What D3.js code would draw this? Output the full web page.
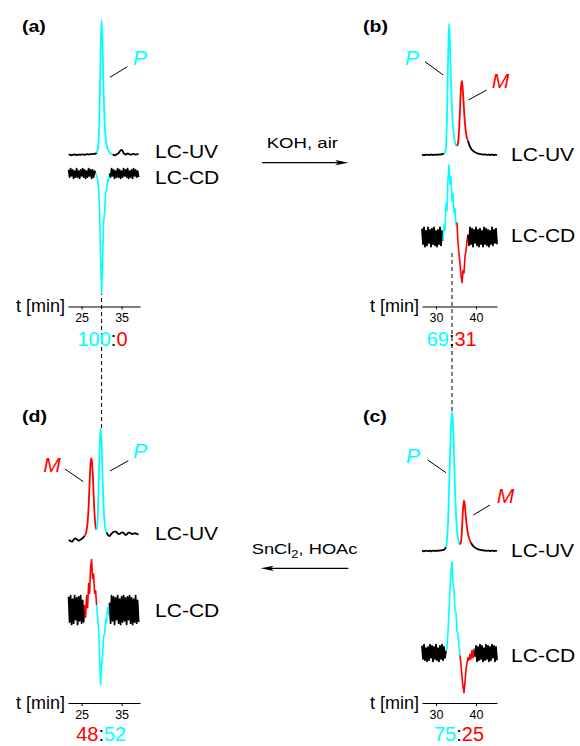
<!DOCTYPE html>
<html><head><meta charset="utf-8">
<script src="https://cdn.jsdelivr.net/npm/d3@7/dist/d3.min.js"></script>
<style>
body{margin:0;background:#fff}
svg{display:block}
text{font-family:"Liberation Sans",Arial,Helvetica,sans-serif}
</style></head>
<body><svg id="chart" width="580" height="746"></svg>
<script>
// ---------------- DATA (time grid: start + i * step, minutes) ----------------
const sampleStep = 0.25;

// (a) starting material: 100:0
const aStart = 21.75;
const aUV = [0.3,0.2,0.0,-0.2,0.1,0.3,0.4,0.2,0.0,0.1,0.3,0.2,0.1,0.4,0.5,0.3,0.2,0.3,0.5,0.6,0.4,0.5,0.7,0.6,0.7,0.8,0.9,1.0,
  1.8,4,11,34,79,104,83,48,25,13.5,8,5,3.2,2.0,1.3,0.8,0.3,0.1,-0.3,0.0,0.5,0.8,1.5,2.6,3.6,4.0,3.0,1.6,0.8,0.4,0.6,1.2,1.0,0.5,0.3,0.4,0.6,0.9,0.6,0.3,0.4,0.7,0.5];
const aCD = [3,-3,4,-2,3,-4,2,-3,4,-3,2,-4,3,-2,4,-3,3,-4,2,-3,4,-2,3,-4,3,-3,2,0,
  -2,-5,-12,-30,-70,-100,-72,-40,-32,-15,-14,-5,-6,0,
  -3,4,-2,3,-4,2,-3,4,-3,3,-4,2,-3,4,-2,3,-3,4,-4,2,-3,3,-4,4,-2,3,-3,2,-3];
const aUvBands = [[28.75, 32.75, "P"]];
const aCdBands = [[28.5, 32.0, "P"]];
const aTicks = [25, 35];
const aRatio = [["100", "P"], [":", "base"], ["0", "M"]];

// (b) after KOH, air: 69:31
const bStart = 26.5;
const bUV = [0.3,0.1,-0.2,0.2,0.0,0.3,0.1,-0.1,0.2,0.4,0.1,0.0,0.3,0.2,0.1,0.4,0.2,0.3,0.5,0.4,0.6,0.8,1.2,
  2,6,30,70,101,85,55,35,22,14,10,7.5,7,9,18,35,52,57,48,35,24,17,13,11,8.5,6.5,5,4,3.3,2.6,2.1,1.7,1.4,1.1,0.9,0.7,0.6,0.5,
  0.4,0.2,0.5,0.3,0.1,0.3,0.2,0.0,0.2,0.4,0.1,0.0,0.2,0.1,0.0];
const bCD = [7,-6,8,-8,5,-7,8,-5,6,-8,7,-6,8,-7,5,-8,6,-6,8,-7,5,
  -3,10,6,28,22,48,60,44,50,30,36,20,24,10,12,
  -5,-14,-22,-32,-38,-28,-30,-16,-12,-3,2,
  -7,8,-6,7,-8,6,-5,8,-7,6,-8,7,-6,5,-8,8,-6,7,-7,6,-8,5,-6,8,-7,6,-5,7,-6];
const bUvBands = [[32.0, 35.25, "P"], [35.25, 38.0, "M"]];
const bCdBands = [[31.75, 35.25, "P"], [35.25, 38.0, "M"]];
const bTicks = [30, 40];
const bRatio = [["69", "P"], [":", "base"], ["31", "M"]];

// (c) 75:25
const cStart = 26.5;
const cUV = [0.2,0.0,-0.2,0.1,0.3,0.0,-0.1,0.2,0.1,-0.2,0.0,0.3,0.1,0.2,0.0,0.3,0.2,0.4,0.3,0.5,0.6,0.8,1.0,
  1.5,3,8,22,45,72,95,107,98,75,48,28,16,10,6.5,5,7,17,32,39,34,25,18,13,10,8,6.3,5,4,3.2,2.6,2.1,1.7,1.4,1.1,0.9,0.7,0.6,
  0.5,0.3,0.4,0.2,0.1,0.3,0.2,0.0,0.1,0.3,0.2,0.0,0.1,0.2,0.0];
const cCD = [6,-5,7,-6,4,-7,5,-6,7,-4,6,-7,5,-5,7,-6,4,-7,6,-5,7,-6,5,-4,2,
  4,18,35,55,68,76,58,52,36,34,18,16,6,-2,
  -10,-20,-28,-33,-24,-14,-8,-4,-6,-1,-5,2,-4,3,-3,
  6,-7,5,-6,7,-5,6,-7,4,-6,7,-5,6,-7,5,-6,7,-4,6,-7,5,-6];
const cUvBands = [[32.5, 36.0, "P"], [36.0, 38.75, "M"]];
const cCdBands = [[32.5, 36.0, "P"], [36.0, 39.75, "M"]];
const cTicks = [30, 40];
const cRatio = [["75", "P"], [":", "base"], ["25", "M"]];

// (d) after SnCl2, HOAc: 48:52
const dStart = 21.75;
const dUV = [-5.4,-5.8,-6.3,-6.7,-6.2,-5.2,-4.4,-4.1,-4.6,-5.4,-5.9,-5.6,-5.0,-4.6,-4.0,-3.2,
  -2.0,-1,2,8,20,38,54,57.5,48,30,14,5,2.5,
  10,35,65,80.5,70,42,20,8,2.5,0.5,
  -1.0,-2.0,-2.3,-1.5,-0.5,0.3,0.8,1.0,1.0,0.6,-0.2,-0.8,-0.7,-0.2,0.3,0.5,0.1,-0.8,-1.5,-1.2,-0.4,0.3,0.3,-0.2,-0.7,-0.8,-0.5,-0.2,-0.3,-0.6,-0.9,-1.0];
const dCD = [11,-10,12,-12,9,-11,12,-8,10,-12,11,-9,12,-11,8,-10,
  4,-6,12,2,22,14,36,42,26,30,14,16,4,
  -6,-16,-36,-62.5,-45,-38,-22,-20,-8,-10,2,-4,6,
  -11,12,-9,11,-12,10,-8,12,-11,9,-12,11,-10,12,-9,10,-12,11,-8,12,-11,10,-12,9,-10,12,-11,8,-10];
const dUvBands = [[25.75, 28.75, "M"], [28.75, 31.25, "P"]];
const dCdBands = [[25.75, 28.75, "M"], [28.75, 32.0, "P"]];
const dTicks = [25, 35];
const dRatio = [["48", "M"], [":", "base"], ["52", "P"]];

const COLOURS = {P: "#00FFFF", M: "#FF0000", base: "#000000"};

// ---------------- LAYOUT ----------------
const panels = [
  {tag:"(a)", uv:aUV, cd:aCD, t0:aStart, uvBands:aUvBands, cdBands:aCdBands, ticks:aTicks, ratio:aRatio,
   xDomain:[21.6,39.6], xRange:[68,140], uvBase:155, cdBase:173.5, axisY:306.5,
   tagPos:[22,32], uvLab:[155,158], cdLab:[155,184], tLab:[65,312], ratioPos:[102.5,345.5],
   labels:[{k:"P", x:133, y:65, l:[110,77.3,127.3,66.7]}]},
  {tag:"(b)", uv:bUV, cd:bCD, t0:bStart, uvBands:bUvBands, cdBands:bCdBands, ticks:bTicks, ratio:bRatio,
   xDomain:[26.5,45.25], xRange:[422,497], uvBase:155, cdBase:237, axisY:306.5,
   tagPos:[363,32], uvLab:[511,161], cdLab:[511,242], tLab:[419,312], ratioPos:[451.7,346],
   labels:[{k:"P", x:405, y:65, l:[425,61.7,443.3,75]}, {k:"M", x:491.7, y:88.3, l:[468.3,100,486.7,90]}]},
  {tag:"(c)", uv:cUV, cd:cCD, t0:cStart, uvBands:cUvBands, cdBands:cCdBands, ticks:cTicks, ratio:cRatio,
   xDomain:[26.5,45.25], xRange:[422,497], uvBase:551, cdBase:653, axisY:703,
   tagPos:[363,422], uvLab:[511,557], cdLab:[511,662], tLab:[419,709], ratioPos:[459,740.5],
   labels:[{k:"P", x:406, y:462.7, l:[427.7,460,446,472.7]}, {k:"M", x:496.7, y:503.3, l:[473.3,515,490,505]}]},
  {tag:"(d)", uv:dUV, cd:dCD, t0:dStart, uvBands:dUvBands, cdBands:dCdBands, ticks:dTicks, ratio:dRatio,
   xDomain:[21.6,39.6], xRange:[68,140], uvBase:533, cdBase:610, axisY:703,
   tagPos:[22,422], uvLab:[155,540], cdLab:[155,617], tLab:[65,709], ratioPos:[101.2,740.5],
   labels:[{k:"M", x:43.3, y:471.7, l:[65,469,83.3,481.7]}, {k:"P", x:133.3, y:458.3, l:[110,471,128.3,460.7]}]}
];
const UV_PX = 1.3;   // px per UV unit
const CD_PX = 1.2;   // px per CD unit

const svg = d3.select("#chart");

function segments(values, t0, bands) {
  const key = t => { for (const b of bands) if (t >= b[0] - 1e-9 && t < b[1] - 1e-9) return b[2]; return "base"; };
  const segs = [];
  let cur = null;
  values.forEach((v, i) => {
    const t = t0 + i * sampleStep, k = key(t);
    if (!cur || cur.k !== k) {
      if (cur) cur.pts.push([t, v]);
      cur = {k, pts: []};
      segs.push(cur);
    }
    cur.pts.push([t, v]);
  });
  return segs;
}

// dashed guide lines (drawn first)
function drawDashed(p, t, y1, y2) {
  const x = d3.scaleLinear().domain(p.xDomain).range(p.xRange);
  svg.append("line").attr("x1", x(t)).attr("x2", x(t)).attr("y1", y1).attr("y2", y2)
    .attr("stroke", "#000").attr("stroke-width", 1).attr("stroke-dasharray", "4,3");
}
drawDashed(panels[0], 30, 284, 430);
drawDashed(panels[1], 34, 253, 413);

panels.forEach(p => {
  const g = svg.append("g");
  const x = d3.scaleLinear().domain(p.xDomain).range(p.xRange);
  const yUV = d3.scaleLinear().domain([0, 100]).range([p.uvBase, p.uvBase - 100 * UV_PX]);
  const yCD = d3.scaleLinear().domain([0, 100]).range([p.cdBase, p.cdBase - 100 * CD_PX]);

  const lineUV = d3.line().x(d => x(d[0])).y(d => yUV(d[1])).curve(d3.curveMonotoneX);
  const lineCD = d3.line().x(d => x(d[0])).y(d => yCD(d[1]));

  segments(p.cd, p.t0, p.cdBands).forEach(s => {
    g.append("path").attr("d", lineCD(s.pts)).attr("fill", "none")
      .attr("stroke", COLOURS[s.k]).attr("stroke-width", s.k === "base" ? 1.8 : 1.6).attr("stroke-linejoin", "round");
  });
  segments(p.uv, p.t0, p.uvBands).forEach(s => {
    g.append("path").attr("d", lineUV(s.pts)).attr("fill", "none")
      .attr("stroke", COLOURS[s.k]).attr("stroke-width", 1.8).attr("stroke-linejoin", "round");
  });

  // time axis
  const ax = g.append("g").attr("transform", `translate(0,${p.axisY})`)
    .call(d3.axisBottom(x).tickValues(p.ticks).tickSize(3).tickSizeOuter(0).tickPadding(4).tickFormat(d3.format("d")));
  ax.select(".domain").attr("stroke", "#000").attr("stroke-width", 1.2);
  ax.selectAll(".tick line").attr("stroke", "#000");
  ax.selectAll(".tick text").attr("font-size", 12.5).attr("fill", "#000")
    .attr("font-family", '"Liberation Sans",Arial,sans-serif');

  g.append("text").attr("x", p.tLab[0]).attr("y", p.tLab[1]).attr("text-anchor", "end")
    .attr("font-size", 18).text("t [min]");

  // panel tag
  g.append("text").attr("transform", `translate(${p.tagPos[0]},${p.tagPos[1]}) scale(1.15,1)`)
    .attr("font-size", 17).attr("font-weight", "bold").text(p.tag);

  // trace labels
  g.append("text").attr("transform", `translate(${p.uvLab[0]},${p.uvLab[1]}) scale(1.17,1)`)
    .attr("font-size", 18).text("LC-UV");
  g.append("text").attr("transform", `translate(${p.cdLab[0]},${p.cdLab[1]}) scale(1.17,1)`)
    .attr("font-size", 18).text("LC-CD");

  // peak labels with leader lines
  p.labels.forEach(lb => {
    g.append("line").attr("x1", lb.l[0]).attr("y1", lb.l[1]).attr("x2", lb.l[2]).attr("y2", lb.l[3])
      .attr("stroke", "#000").attr("stroke-width", 1);
    g.append("text").attr("x", lb.x).attr("y", lb.y).attr("font-size", 21).attr("font-style", "italic")
      .attr("fill", COLOURS[lb.k]).text(lb.k);
  });

  // ratio
  const rt = g.append("text").attr("x", p.ratioPos[0]).attr("y", p.ratioPos[1])
    .attr("text-anchor", "middle").attr("font-size", 20);
  p.ratio.forEach(r => rt.append("tspan").attr("fill", COLOURS[r[1]]).text(r[0]));
});

// reaction arrows
function arrow(x1, x2, y) {
  const dir = Math.sign(x2 - x1);
  svg.append("line").attr("x1", x1).attr("x2", x2 - dir * 8).attr("y1", y).attr("y2", y)
    .attr("stroke", "#000").attr("stroke-width", 1.3);
  svg.append("path").attr("d",
    `M${x2},${y} L${x2 - dir * 13},${y - 2.6} L${x2 - dir * 10},${y} L${x2 - dir * 13},${y + 2.6} Z`)
    .attr("fill", "#000");
}
arrow(262, 348.3, 162.7);
arrow(348.3, 260.7, 568.3);

svg.append("text").attr("transform", "translate(266.7,148.3) scale(1.2,1)").attr("font-size", 15.5).text("KOH, air");
const sn = svg.append("text").attr("transform", "translate(251.7,554) scale(1.18,1)").attr("font-size", 15.5);
sn.append("tspan").text("SnCl");
sn.append("tspan").attr("font-size", 11).attr("dy", 4).text("2");
sn.append("tspan").attr("dy", -4).text(", HOAc");
</script>
</body></html>
